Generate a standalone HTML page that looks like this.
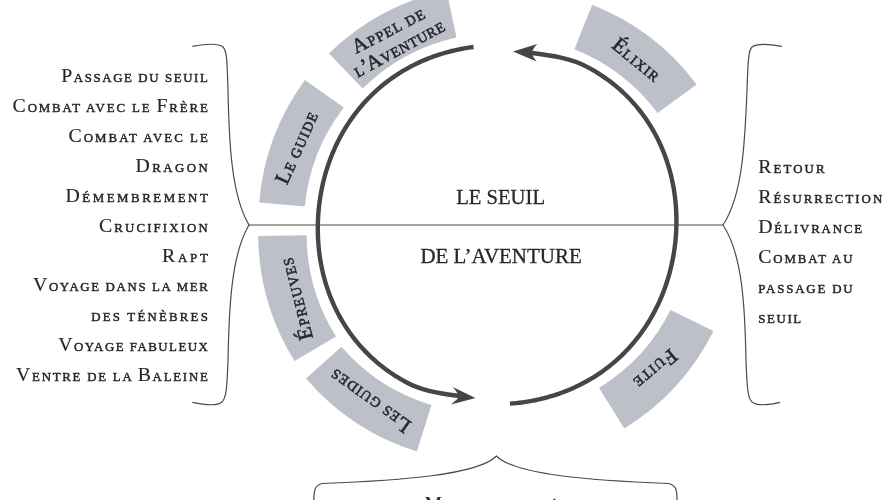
<!DOCTYPE html>
<html><head><meta charset="utf-8">
<style>
html,body{margin:0;padding:0;background:#fff;}
body{width:896px;height:500px;overflow:hidden;position:relative;}
svg{position:absolute;left:0;top:0;will-change:transform;}
.t text{font-family:"Liberation Serif",serif;stroke:#26262e;stroke-width:0.35px;}
.t tspan.b{stroke-width:0.15px;}
.t tspan.s{stroke-width:0.45px;}
.t text.lb tspan{stroke-width:0.55px;}
.c text{font-family:"Liberation Serif",serif;stroke:#26262e;stroke-width:0.3px;}
</style></head><body>
<svg width="896" height="500" viewBox="0 0 896 500">
<g fill="#bdc0c8">
<path d="M259.2,202.4 A241,241 0 0 1 304.9,80.1 L343.8,107.4 A193,193 0 0 0 304.8,206.4 Z"/>
<path d="M329,53.4 A241,241 0 0 1 446.5,-9.4 L456.5,37.5 A193,193 0 0 0 362.6,88.6 Z"/>
<path d="M592.2,4.8 A241,241 0 0 1 696.7,84.5 L657.5,112.9 A193,193 0 0 0 574.4,49.2 Z"/>
<path d="M713.5,331 A241,241 0 0 1 624.3,428.5 L599.1,387.9 A193,193 0 0 0 670.5,310 Z"/>
<path d="M416.8,451.6 A241,241 0 0 1 306,378.6 L341.4,346.8 A193,193 0 0 0 431.5,405.1 Z"/>
<path d="M294.5,361 A241,241 0 0 1 258.2,235.9 L306.6,235.2 A193,193 0 0 0 336,336.6 Z"/>
</g>
<g fill="none" stroke="#464648" stroke-width="4.4" stroke-linecap="butt">
<path d="M473.50,47.01 L470.39,47.43 L467.28,47.90 L464.19,48.42 L461.10,48.99 L458.02,49.61 L454.95,50.28 L451.89,51.01 L448.84,51.78 L445.81,52.61 L442.79,53.49 L439.78,54.42 L436.79,55.40 L433.81,56.43 L430.86,57.52 L427.92,58.65 L425.00,59.84 L422.10,61.09 L419.23,62.38 L416.37,63.72 L413.55,65.12 L410.74,66.57 L407.97,68.07 L405.22,69.62 L402.49,71.22 L399.80,72.88 L397.14,74.58 L394.51,76.33 L391.92,78.13 L389.36,79.98 L386.83,81.88 L384.34,83.82 L381.89,85.82 L379.47,87.85 L377.09,89.94 L374.76,92.07 L372.46,94.24 L370.21,96.45 L367.99,98.71 L365.83,101.00 L363.70,103.34 L361.62,105.72 L359.58,108.13 L357.60,110.58 L355.65,113.07 L353.76,115.59 L351.91,118.15 L350.10,120.74 L348.35,123.36 L346.64,126.01 L344.99,128.69 L343.38,131.40 L341.82,134.13 L340.31,136.90 L338.85,139.68 L337.44,142.49 L336.07,145.33 L334.76,148.18 L333.50,151.06 L332.28,153.96 L331.12,156.88 L330.00,159.81 L328.94,162.76 L327.92,165.73 L326.95,168.72 L326.03,171.71 L325.16,174.73 L324.34,177.75 L323.57,180.79 L322.84,183.84 L322.17,186.90 L321.54,189.97 L320.96,193.05 L320.43,196.14 L319.95,199.23 L319.52,202.34 L319.13,205.45 L318.79,208.56 L318.51,211.69 L318.27,214.81 L318.08,217.94 L317.93,221.08 L317.84,224.21 L317.80,227.35 L317.80,230.49 L317.86,233.64 L317.97,236.78 L318.12,239.92 L318.33,243.06 L318.58,246.20 L318.89,249.33 L319.25,252.46 L319.66,255.59 L320.12,258.71 L320.64,261.83 L321.21,264.93 L321.83,268.03 L322.50,271.13 L323.23,274.21 L324.01,277.28 L324.85,280.33 L325.74,283.38 L326.68,286.41 L327.68,289.42 L328.73,292.42 L329.84,295.40 L331.01,298.36 L332.23,301.30 L333.50,304.22 L334.83,307.12 L336.21,309.99 L337.65,312.83 L339.14,315.65 L340.69,318.44 L342.29,321.21 L343.95,323.94 L345.66,326.64 L347.42,329.31 L349.23,331.94 L351.10,334.54 L353.01,337.10 L354.98,339.62 L357.00,342.10 L359.06,344.55 L361.17,346.95 L363.33,349.31 L365.54,351.63 L367.79,353.90 L370.08,356.13 L372.42,358.31 L374.80,360.45 L377.22,362.54 L379.68,364.58 L382.18,366.57 L384.72,368.51 L387.29,370.41 L389.90,372.25 L392.54,374.04 L395.22,375.78 L397.92,377.47 L400.66,379.10 L403.42,380.69 L406.22,382.22 C421.86,390.81 440.26,393.83 458.0,395.8"/>
<path d="M510.00,403.63 L513.14,403.38 L516.27,403.08 L519.40,402.73 L522.53,402.33 L525.65,401.88 L528.76,401.38 L531.86,400.83 L534.95,400.23 L538.03,399.57 L541.11,398.87 L544.17,398.11 L547.22,397.30 L550.25,396.44 L553.27,395.53 L556.28,394.57 L559.27,393.55 L562.24,392.48 L565.19,391.36 L568.13,390.19 L571.04,388.96 L573.94,387.68 L576.81,386.35 L579.65,384.97 L582.47,383.54 L585.27,382.05 L588.04,380.51 L590.77,378.92 L593.48,377.28 L596.16,375.59 L598.81,373.85 L601.43,372.06 L604.01,370.22 L606.55,368.34 L609.06,366.40 L611.54,364.42 L613.97,362.39 L616.37,360.32 L618.73,358.20 L621.04,356.03 L623.32,353.82 L625.55,351.57 L627.74,349.28 L629.88,346.95 L631.98,344.58 L634.04,342.17 L636.04,339.72 L638.01,337.24 L639.92,334.72 L641.79,332.16 L643.61,329.58 L645.38,326.96 L647.11,324.31 L648.78,321.63 L650.41,318.92 L651.99,316.18 L653.52,313.42 L654.99,310.63 L656.42,307.82 L657.80,304.98 L659.13,302.12 L660.41,299.24 L661.64,296.34 L662.82,293.42 L663.95,290.48 L665.03,287.52 L666.07,284.55 L667.05,281.56 L667.98,278.55 L668.87,275.53 L669.70,272.50 L670.49,269.46 L671.22,266.40 L671.91,263.34 L672.55,260.26 L673.14,257.17 L673.68,254.08 L674.18,250.97 L674.62,247.86 L675.02,244.74 L675.36,241.62 L675.66,238.49 L675.91,235.35 L676.11,232.21 L676.26,229.07 L676.37,225.93 L676.42,222.78 L676.42,219.63 L676.37,216.48 L676.28,213.33 L676.13,210.17 L675.93,207.03 L675.68,203.88 L675.38,200.73 L675.03,197.59 L674.62,194.45 L674.17,191.32 L673.66,188.20 L673.09,185.08 L672.48,181.97 L671.81,178.87 L671.09,175.78 L670.31,172.70 L669.48,169.63 L668.59,166.57 L667.65,163.53 L666.66,160.51 L665.61,157.50 L664.50,154.51 L663.34,151.54 L662.12,148.58 L660.85,145.65 L659.52,142.75 L658.14,139.86 L656.70,137.01 L655.21,134.18 L653.66,131.37 L652.06,128.60 L650.41,125.86 L648.70,123.15 L646.93,120.47 L645.12,117.83 L643.25,115.22 L641.33,112.65 L639.36,110.12 L637.35,107.62 L635.28,105.17 L633.16,102.76 L631.00,100.39 L628.79,98.06 L626.53,95.78 L624.23,93.54 L621.89,91.35 L619.50,89.20 L617.08,87.11 L614.61,85.06 L612.10,83.06 L609.56,81.11 L606.98,79.21 L604.36,77.36 L601.71,75.57 L599.03,73.82 L596.32,72.13 L593.58,70.48 L590.80,68.90 L588.00,67.36 C571.11,58.09 551.11,55.51 532.0,53.0"/>
</g>
<g fill="#464648">
<path d="M513,51.4 L537.2,44.1 Q534,47.5 532.6,50.4 L532.6,55.3 Q534,58.5 536.5,61.6 Z"/>
<path d="M475.5,398.1 L452.7,387 Q456,390.5 457.6,393.6 L457.4,399.1 Q454.5,401.5 451,404.4 Z"/>
</g>
<g fill="none" stroke="#4a4a4a" stroke-width="1.2">
<path d="M249,225 H723"/>
<path d="M192.4,46.4 C205,44 218,43 223,47 C227,51 227,60 228,90 C229,140 231,195 249,225 C231,255 229,310 228,360 C227,390 226,398 222,402 C216,407 200,404 192.4,402.4"/>
<path d="M782,46.4 C769,44 757,43 752,47 C748.5,50.5 748,60 747,90 C745,140 743,195 723,225 C743,255 745,310 746,360 C747,390 748,398 752,402 C758,407 774,404 780,402.4"/>
<path d="M313.8,500 C314,490 315,485 322,483.5 C400,480.5 478,475 496.4,456 C515,475 592,480.5 668.6,483.5 C676,485 677,490 677,500"/>
</g>
<g class="t" fill="#26262e" font-size="19.8">
<text x="61.2" y="82.3" textLength="146.6" lengthAdjust="spacing"><tspan class="b" font-size="19.8">P</tspan><tspan class="s" font-size="12.87">ASSAGE DU SEUIL</tspan></text>
<text x="12.6" y="112.3" textLength="195.2" lengthAdjust="spacing"><tspan class="b" font-size="19.8">C</tspan><tspan class="s" font-size="12.87">OMBAT AVEC LE </tspan><tspan class="b" font-size="19.8">F</tspan><tspan class="s" font-size="12.87">RÈRE</tspan></text>
<text x="68.5" y="142.3" textLength="139.3" lengthAdjust="spacing"><tspan class="b" font-size="19.8">C</tspan><tspan class="s" font-size="12.87">OMBAT AVEC LE</tspan></text>
<text x="135.5" y="172.3" textLength="72.3" lengthAdjust="spacing"><tspan class="b" font-size="19.8">D</tspan><tspan class="s" font-size="12.87">RAGON</tspan></text>
<text x="65.5" y="202.3" textLength="142.3" lengthAdjust="spacing"><tspan class="b" font-size="19.8">D</tspan><tspan class="s" font-size="12.87">ÉMEMBREMENT</tspan></text>
<text x="99" y="231.8" textLength="108.8" lengthAdjust="spacing"><tspan class="b" font-size="19.8">C</tspan><tspan class="s" font-size="12.87">RUCIFIXION</tspan></text>
<text x="162" y="261.8" textLength="45.8" lengthAdjust="spacing"><tspan class="b" font-size="19.8">R</tspan><tspan class="s" font-size="12.87">APT</tspan></text>
<text x="33" y="291.3" textLength="174.8" lengthAdjust="spacing"><tspan class="b" font-size="19.8">V</tspan><tspan class="s" font-size="12.87">OYAGE DANS LA MER</tspan></text>
<text x="91.2" y="321.3" textLength="116.6" lengthAdjust="spacing"><tspan class="s" font-size="12.87">DES TÉNÈBRES</tspan></text>
<text x="58.2" y="351.3" textLength="149.6" lengthAdjust="spacing"><tspan class="b" font-size="19.8">V</tspan><tspan class="s" font-size="12.87">OYAGE FABULEUX</tspan></text>
<text x="16" y="381.3" textLength="191.8" lengthAdjust="spacing"><tspan class="b" font-size="19.8">V</tspan><tspan class="s" font-size="12.87">ENTRE DE LA </tspan><tspan class="b" font-size="19.8">B</tspan><tspan class="s" font-size="12.87">ALEINE</tspan></text>
<text x="758.2" y="172.6" textLength="66.4" lengthAdjust="spacing"><tspan class="b" font-size="19.8">R</tspan><tspan class="s" font-size="12.87">ETOUR</tspan></text>
<text x="758.2" y="202.8" textLength="124.0" lengthAdjust="spacing"><tspan class="b" font-size="19.8">R</tspan><tspan class="s" font-size="12.87">ÉSURRECTION</tspan></text>
<text x="758.2" y="232.5" textLength="104.0" lengthAdjust="spacing"><tspan class="b" font-size="19.8">D</tspan><tspan class="s" font-size="12.87">ÉLIVRANCE</tspan></text>
<text x="758.2" y="262.5" textLength="94.4" lengthAdjust="spacing"><tspan class="b" font-size="19.8">C</tspan><tspan class="s" font-size="12.87">OMBAT AU</tspan></text>
<text x="758.2" y="292.8" textLength="94.4" lengthAdjust="spacing"><tspan class="s" font-size="12.87">PASSAGE DU</tspan></text>
<text x="758.2" y="322.7" textLength="43.0" lengthAdjust="spacing"><tspan class="s" font-size="12.87">SEUIL</tspan></text>
<text class="lb" transform="translate(297.8,148.1) rotate(-66)" x="0" y="5.3" text-anchor="middle" font-size="20.8" textLength="77" lengthAdjust="spacing"><tspan class="b" font-size="20.8">L</tspan><tspan class="s" font-size="14.14">E GUIDE</tspan></text>
<text class="lb" transform="translate(388.6,31) rotate(-27.6)" x="0" y="5.3" text-anchor="middle" font-size="20.8" textLength="79" lengthAdjust="spacing"><tspan class="b" font-size="20.8">A</tspan><tspan class="s" font-size="14.14">PPEL DE</tspan></text>
<text class="lb" transform="translate(399.4,49.1) rotate(-28.4)" x="0" y="5.3" text-anchor="middle" font-size="20.8" textLength="100.5" lengthAdjust="spacing"><tspan class="s" font-size="14.14">L</tspan><tspan class="b" font-size="20.8" dx="-0.8">’</tspan><tspan class="b" font-size="20.8" dx="-2.2">A</tspan><tspan class="s" font-size="14.14">VENTURE</tspan></text>
<text class="lb" transform="translate(635.7,60.6) rotate(39.2)" x="0" y="5.3" text-anchor="middle" font-size="20.8" textLength="56" lengthAdjust="spacing"><tspan class="b" font-size="20.8">É</tspan><tspan class="s" font-size="14.14">LIXIR</tspan></text>
<text class="lb" transform="translate(654.8,368) rotate(139.5)" x="0" y="5.3" text-anchor="middle" font-size="20.8" textLength="49.5" lengthAdjust="spacing"><tspan class="b" font-size="20.8">F</tspan><tspan class="s" font-size="14.14">UITE</tspan></text>
<text class="lb" transform="translate(370.9,399.8) rotate(-144.5)" x="0" y="5.3" text-anchor="middle" font-size="20.8" textLength="94.2" lengthAdjust="spacing"><tspan class="b" font-size="20.8">L</tspan><tspan class="s" font-size="14.14">ES GUIDES</tspan></text>
<text class="lb" transform="translate(297.5,298.6) rotate(-104.3)" x="0" y="5.3" text-anchor="middle" font-size="20.8" textLength="84" lengthAdjust="spacing"><tspan class="b" font-size="20.8">É</tspan><tspan class="s" font-size="14.14">PREUVES</tspan></text>
<text x="424.5" y="509.7" textLength="133" lengthAdjust="spacing"><tspan class="b" font-size="19.8">M</tspan><tspan class="s" font-size="12.87">ARIAGE SACRÉ</tspan></text>
</g>
<g class="c" fill="#26262e" font-size="21.4">
<text x="456.2" y="204.1" textLength="88.8" lengthAdjust="spacingAndGlyphs">LE SEUIL</text>
<text x="420.4" y="263.4" textLength="161.4" lengthAdjust="spacingAndGlyphs">DE L’AVENTURE</text>
</g>
</svg>
</body></html>
